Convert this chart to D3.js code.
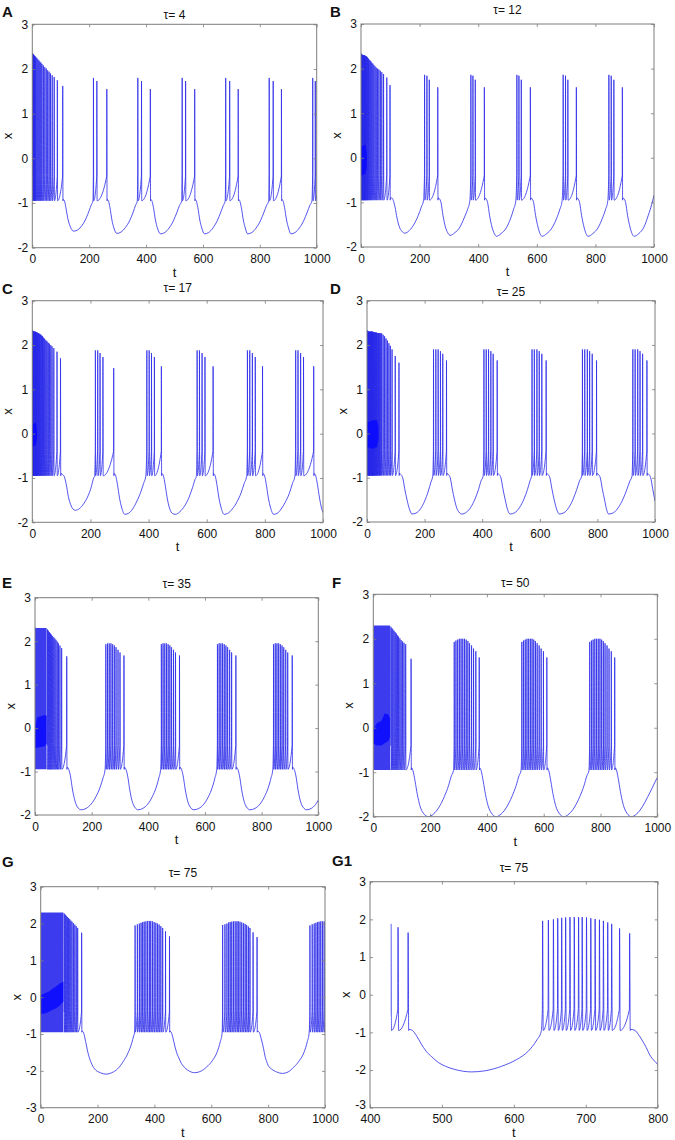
<!DOCTYPE html>
<html><head><meta charset="utf-8">
<script src="https://cdn.jsdelivr.net/npm/d3@7/dist/d3.min.js"></script>
<style>
html,body{margin:0;padding:0;background:#fff;}
svg{display:block;font-family:"Liberation Sans",Arial,Helvetica,sans-serif;}
</style></head>
<body><svg id="chart" width="675" height="1140"></svg>
<script>
// ---------------- DATA ----------------
const panelIds = ["A","B","C","D","E","F","G","G1"];
const tauValues = ["4","12","17","25","35","50","75","75"];
const xTicks1000 = [0,200,400,600,800,1000];
const xTicksZoom = [400,500,600,700,800];
const yTicks23 = [-2,-1,0,1,2,3];
const yTicks33 = [-3,-2,-1,0,1,2,3];
const FLOOR = -0.95;   // level the trace falls back to after each spike
const PRE = -0.4;      // level reached just before a spike fires
const g1TraceStart = 428.85; // G1 trace starts on the upstroke of the spike at t≈429

// spikes: [t, peak];  wave: slow-wave points [t, x] between bursts
const spikesA = [[0.5,2.35],[2.5,2.34],[4.5,2.32],[6.5,2.31],[8.5,2.29],[10.5,2.28],[13,2.26],[16.5,2.24],[20,2.21],[23.5,2.19],[27,2.16],[30.5,2.14],[34,2.11],[39,2.08],[44,2.04],[49,2.01],[54,1.97],[59,1.94],[64,1.9],[70,1.86],[77,1.82],[88,1.75],[107,1.62],
 [215,1.8],[227,1.73],[262,1.55],[371,1.8],[384,1.73],[415,1.55],[527,1.8],[539,1.73],[571,1.55],[680,1.8],[694,1.73],[724,1.55],[833,1.8],[847,1.73],[876,1.55],[986,1.8],[995,1.73]];
const waveA = [[108.5,-0.92],[113,-0.95],[118,-1.1],[125,-1.35],[133,-1.52],[145,-1.63],[160,-1.6],[175,-1.5],[190,-1.33],[200,-1.17],[208,-1.03],[213,-0.96],
 [263.5,-0.92],[268,-0.96],[273,-1.1],[280,-1.38],[287,-1.56],[297,-1.68],[312,-1.65],[327,-1.55],[342,-1.4],[355,-1.2],[363,-1.05],[369,-0.96],
 [416.5,-0.92],[421,-0.96],[426,-1.1],[433,-1.38],[440,-1.56],[451,-1.69],[466,-1.66],[481,-1.56],[496,-1.4],[509,-1.2],[518,-1.05],[525,-0.96],
 [572.5,-0.92],[577,-0.96],[582,-1.1],[589,-1.38],[596,-1.56],[605,-1.69],[620,-1.66],[635,-1.56],[650,-1.4],[663,-1.2],[672,-1.05],[678,-0.96],
 [725.5,-0.92],[730,-0.96],[735,-1.1],[742,-1.38],[749,-1.56],[757,-1.69],[772,-1.66],[787,-1.56],[802,-1.4],[815,-1.2],[824,-1.05],[831,-0.96],
 [877.5,-0.92],[882,-0.96],[887,-1.1],[894,-1.38],[901,-1.56],[909,-1.69],[924,-1.66],[939,-1.56],[954,-1.4],[967,-1.2],[976,-1.05],[983,-0.96],
 [1000,-0.82]];
const transA = [];
const coreA = [];

const spikesB = [[0.5,2.34],[2,2.32],[3.5,2.31],[5,2.31],[6.5,2.3],[8,2.3],[9.5,2.3],[11,2.3],[12.5,2.29],[14,2.29],[15.5,2.28],[17,2.28],[19,2.27],[21,2.26],[23,2.24],[25.5,2.22],[28,2.2],[31,2.18],[34,2.16],[37,2.13],[40.5,2.11],[44,2.08],[48,2.05],[52,2.02],[56.5,2.0],[61,1.98],[66,1.95],[71,1.92],[77,1.88],[88,1.8],[99,1.63],
 [217,1.86],[225,1.84],[233,1.75],[262,1.58],[375,1.86],[382,1.84],[390,1.75],[421,1.58],[532,1.86],[539,1.84],[547,1.75],[578,1.58],[690,1.86],[698,1.84],[706,1.75],[735,1.58],[846,1.86],[854,1.84],[863,1.75],[892,1.58]];
const waveB = [[100.5,-0.9],[105,-0.9],[110,-0.95],[116,-1.1],[123,-1.35],[131,-1.55],[140,-1.65],[150,-1.69],[165,-1.63],[180,-1.5],[195,-1.3],[206,-1.1],[213,-0.97],
 [263.5,-0.9],[268,-0.92],[273,-1.0],[280,-1.3],[288,-1.55],[296,-1.68],[304,-1.74],[320,-1.68],[338,-1.55],[352,-1.35],[364,-1.15],[371,-0.98],
 [422.5,-0.9],[427,-0.92],[432,-1.0],[439,-1.3],[447,-1.55],[455,-1.7],[462,-1.76],[478,-1.7],[496,-1.57],[510,-1.37],[521,-1.15],[528,-0.98],
 [579.5,-0.9],[584,-0.92],[589,-1.0],[596,-1.3],[604,-1.55],[611,-1.7],[618,-1.76],[634,-1.7],[652,-1.57],[667,-1.37],[679,-1.15],[686,-0.98],
 [736.5,-0.9],[741,-0.92],[746,-1.0],[753,-1.3],[761,-1.55],[768,-1.7],[775,-1.76],[791,-1.7],[809,-1.57],[823,-1.37],[835,-1.15],[842,-0.98],
 [893.5,-0.9],[898,-0.92],[903,-1.0],[910,-1.3],[918,-1.55],[925,-1.7],[932,-1.76],[948,-1.7],[966,-1.55],[980,-1.3],[992,-1.05],[1000,-0.84]];
const transB = [];
const coreB = [[0,-0.4,0.25],[15,-0.35,0.3],[20,-0.2,0.1]];

const spikesC = [[0.5,2.33],[2,2.32],[3.5,2.31],[5,2.31],[6.5,2.3],[8,2.3],[9.5,2.3],[11,2.3],[12.5,2.29],[14,2.29],[15.5,2.28],[17,2.28],[19,2.27],[21,2.26],[23,2.26],[25,2.25],[27.5,2.24],[30,2.23],[32.5,2.21],[35,2.2],[38,2.17],[41,2.15],[44,2.12],[47.5,2.1],[51,2.08],[55,2.05],[59,2.03],[63.5,2.0],[68,1.97],[74,1.93],[85,1.85],[97,1.7],
 [217,1.88],[225,1.88],[233,1.82],[243,1.73],[280,1.48],[394,1.88],[402,1.88],[410,1.82],[420,1.73],[444,1.52],[567,1.88],[575,1.88],[584,1.82],[594,1.73],[622,1.52],[740,1.88],[748,1.88],[757,1.82],[767,1.73],[792,1.52],[906,1.88],[914,1.88],[923,1.82],[933,1.73],[968,1.52]];
const waveC = [[98.5,-0.9],[104,-0.92],[110,-0.97],[117,-1.15],[124,-1.42],[132,-1.6],[140,-1.7],[148,-1.73],[162,-1.69],[178,-1.57],[192,-1.4],[203,-1.2],[211,-1.0],[214,-0.96],
 [281.5,-0.9],[287,-0.95],[293,-1.15],[300,-1.45],[308,-1.68],[318,-1.82],[330,-1.8],[345,-1.7],[360,-1.52],[373,-1.32],[383,-1.12],[390,-0.97],
 [445.5,-0.9],[451,-0.95],[457,-1.15],[464,-1.45],[472,-1.68],[482,-1.8],[492,-1.82],[508,-1.76],[524,-1.63],[539,-1.44],[551,-1.22],[560,-1.03],[564,-0.97],
 [623.5,-0.9],[629,-0.95],[635,-1.15],[642,-1.45],[650,-1.68],[660,-1.82],[672,-1.8],[688,-1.7],[704,-1.54],[718,-1.34],[729,-1.12],[737,-0.97],
 [793.5,-0.9],[799,-0.95],[805,-1.15],[812,-1.45],[820,-1.68],[830,-1.82],[842,-1.8],[856,-1.7],[870,-1.55],[884,-1.35],[895,-1.12],[903,-0.97],
 [969.5,-0.9],[975,-0.95],[981,-1.15],[988,-1.45],[995,-1.68],[1000,-1.78]];
const transC = [];
const coreC = [[0,-0.3,0.2],[12,-0.25,0.25],[16,-0.1,0.1]];

const spikesD = [[0.5,2.33],[2,2.32],[3.5,2.31],[5,2.3],[6.5,2.3],[8,2.3],[9.5,2.3],[11,2.3],[12.5,2.3],[14,2.3],[15.5,2.3],[17,2.3],[18.5,2.3],[20,2.3],[21.5,2.29],[23,2.29],[25,2.29],[27,2.28],[29,2.28],[31,2.28],[33,2.28],[35,2.27],[37.5,2.27],[40,2.27],[42.5,2.27],[45,2.27],[48,2.26],[51,2.26],[56,2.23],[61,2.2],[66,2.15],[71,2.1],[76,2.04],[81,1.98],[87,1.9],[98,1.75],[111,1.6],
 [231,1.9],[239,1.9],[247,1.9],[255,1.86],[263,1.8],[276,1.65],[406,1.9],[414,1.9],[422,1.9],[430,1.86],[438,1.8],[452,1.65],[573,1.9],[581,1.9],[590,1.9],[598,1.86],[607,1.8],[622,1.65],[748,1.9],[756,1.9],[765,1.9],[773,1.86],[782,1.8],[797,1.65],[923,1.9],[931,1.9],[940,1.9],[948,1.86],[957,1.8],[972,1.65]];
const waveD = [[112.5,-0.9],[118,-0.93],[124,-1.0],[131,-1.25],[139,-1.5],[147,-1.7],[156,-1.82],[170,-1.8],[186,-1.7],[200,-1.53],[213,-1.3],[222,-1.1],[228,-0.97],
 [277.5,-0.9],[283,-0.93],[289,-1.0],[296,-1.25],[304,-1.5],[314,-1.72],[329,-1.82],[345,-1.78],[361,-1.66],[375,-1.48],[387,-1.27],[396,-1.07],[403,-0.97],
 [453.5,-0.9],[459,-0.93],[465,-1.0],[472,-1.25],[480,-1.5],[488,-1.72],[497,-1.82],[513,-1.79],[530,-1.67],[545,-1.48],[557,-1.27],[566,-1.07],[571,-0.97],
 [623.5,-0.9],[629,-0.93],[635,-1.0],[642,-1.25],[650,-1.5],[659,-1.72],[668,-1.82],[684,-1.79],[701,-1.67],[716,-1.48],[728,-1.27],[738,-1.07],[745,-0.97],
 [798.5,-0.9],[804,-0.93],[810,-1.0],[817,-1.25],[825,-1.5],[832,-1.72],[839,-1.82],[856,-1.79],[873,-1.67],[889,-1.48],[902,-1.27],[913,-1.07],[920,-0.97],
 [973.5,-0.9],[979,-0.93],[985,-1.0],[992,-1.25],[1000,-1.53]];
const transD = [];
const coreD = [[0,-0.3,0.25],[20,-0.35,0.3],[35,-0.3,0.3],[40,-0.1,0.15]];

const spikesE = [[44,2.27],[47.5,2.24],[51,2.21],[54.5,2.18],[58,2.15],[62,2.12],[66,2.09],[70,2.06],[74,2.03],[78.5,1.99],[83,1.95],[88,1.9],[94,1.84],[112,1.65],
 [250,1.93],[256,1.95],[262,1.95],[268,1.95],[274,1.93],[280,1.9],[286,1.86],[293,1.8],[300,1.74],[314,1.67],
 [446,1.93],[452,1.95],[458,1.95],[464,1.95],[470,1.93],[476,1.9],[482,1.86],[489,1.8],[496,1.74],[510,1.67],
 [644,1.93],[650,1.95],[656,1.95],[662,1.95],[668,1.93],[674,1.9],[680,1.86],[687,1.8],[694,1.74],[709,1.67],
 [842,1.93],[848,1.95],[854,1.95],[860,1.95],[866,1.93],[872,1.9],[878,1.86],[885,1.8],[892,1.74],[908,1.67]];
const waveE = [[113.5,-0.9],[119,-0.95],[125,-1.1],[132,-1.4],[140,-1.65],[150,-1.82],[163,-1.88],[180,-1.85],[198,-1.75],[215,-1.58],[230,-1.36],[240,-1.15],[247,-0.97],
 [315.5,-0.9],[321,-0.95],[327,-1.1],[334,-1.4],[342,-1.66],[352,-1.82],[364,-1.88],[380,-1.85],[398,-1.75],[414,-1.58],[428,-1.36],[437,-1.15],[443,-0.97],
 [511.5,-0.9],[517,-0.95],[523,-1.1],[530,-1.4],[538,-1.66],[548,-1.82],[561,-1.88],[578,-1.85],[596,-1.75],[612,-1.58],[626,-1.36],[635,-1.15],[641,-0.97],
 [710.5,-0.9],[716,-0.95],[722,-1.1],[729,-1.4],[737,-1.66],[747,-1.82],[759,-1.88],[776,-1.85],[794,-1.75],[810,-1.58],[824,-1.36],[833,-1.15],[839,-0.97],
 [909.5,-0.9],[915,-0.95],[921,-1.1],[928,-1.4],[936,-1.66],[946,-1.82],[959,-1.88],[975,-1.85],[990,-1.76],[1000,-1.66]];
const transE = [[0,2.36],[1.5,2.3],[41,2.3]];
const coreE = [[0,-0.45,0.0],[8,-0.45,0.25],[35,-0.42,0.3],[41,-0.35,0.28]];

const spikesF = [[62,2.27],[65.5,2.24],[69,2.21],[73,2.18],[77,2.15],[81,2.12],[85,2.08],[89,2.05],[93.5,2.01],[98,1.97],[103,1.94],[108,1.91],[114,1.88],[133,1.55],
 [285,1.93],[291,1.96],[297,1.98],[303,2.0],[309,2.0],[315,2.0],[321,2.0],[327,1.98],[333,1.95],[339,1.9],[346,1.85],[353,1.78],[361,1.72],[373,1.58],
 [523,1.93],[529,1.96],[535,1.98],[541,2.0],[547,2.0],[553,2.0],[559,2.0],[565,1.98],[571,1.95],[577,1.9],[584,1.85],[591,1.78],[599,1.72],[611,1.58],
 [762,1.93],[768,1.96],[774,1.98],[780,2.0],[786,2.0],[792,2.0],[798,2.0],[804,1.98],[810,1.95],[816,1.9],[823,1.85],[830,1.78],[838,1.72],[850,1.58]];
const waveF = [[134.5,-0.9],[140,-0.97],[147,-1.2],[155,-1.5],[164,-1.75],[176,-1.92],[194,-2.0],[212,-1.94],[232,-1.78],[250,-1.55],[265,-1.3],[275,-1.08],[282,-0.97],
 [374.5,-0.9],[380,-0.97],[387,-1.2],[395,-1.5],[404,-1.75],[416,-1.92],[432,-2.0],[450,-1.94],[470,-1.78],[488,-1.55],[503,-1.3],[513,-1.08],[520,-0.97],
 [612.5,-0.9],[618,-0.97],[625,-1.2],[633,-1.5],[642,-1.75],[654,-1.92],[671,-2.0],[689,-1.94],[709,-1.78],[727,-1.55],[742,-1.3],[752,-1.08],[759,-0.97],
 [851.5,-0.9],[857,-0.97],[864,-1.2],[872,-1.5],[881,-1.75],[893,-1.92],[909,-2.0],[927,-1.94],[947,-1.78],[965,-1.57],[980,-1.38],[992,-1.22],[1000,-1.12]];
const transF = [[0,2.36],[1.5,2.3],[59,2.3]];
const coreF = [[0,-0.35,-0.05],[12,-0.4,0.1],[28,-0.4,0.15],[40,-0.35,0.32],[53,-0.3,0.3],[59,-0.2,0.2]];

const spikesG = [[83,2.27],[86.5,2.24],[90,2.21],[94,2.18],[98,2.15],[102,2.12],[106,2.08],[110,2.05],[115,2.01],[120,1.97],[125,1.93],[130,1.88],[144,1.75],
 [332,1.95],[340,1.98],[347,2.0],[353,2.02],[358.5,2.04],[364,2.05],[370,2.06],[376,2.07],[382,2.07],[387,2.07],[393,2.06],[399,2.04],[405,2.02],[411,2.0],[416.5,1.97],[422.5,1.93],[429,1.88],[439,1.79],[453,1.65],
 [640,1.96],[648,1.98],[655,2.0],[661,2.03],[666.5,2.04],[672,2.05],[678,2.06],[684,2.06],[690,2.06],[695,2.06],[701,2.05],[707,2.03],[713,2.01],[719,1.99],[724.5,1.96],[730.5,1.92],[736,1.88],[747,1.76],[761,1.63],
 [947,1.95],[955,1.98],[962,2.0],[968,2.02],[973.5,2.04],[979,2.05],[985,2.06],[991,2.06],[997,2.06]];
const waveG = [[145.5,-0.92],[151,-0.97],[158,-1.2],[166,-1.5],[176,-1.75],[190,-1.95],[210,-2.05],[230,-2.09],[250,-2.05],[270,-1.95],[290,-1.75],[308,-1.5],[320,-1.25],[327,-1.05],[330,-0.97],
 [454.5,-0.92],[459,-0.95],[465,-1.1],[471,-1.3],[478,-1.5],[486,-1.65],[495,-1.8],[505,-1.9],[517,-1.98],[529,-2.03],[541,-2.05],[560,-2.02],[583,-1.9],[604,-1.72],[620,-1.5],[632,-1.2],[638,-0.98],
 [762.5,-0.92],[768.5,-0.95],[773,-1.05],[778,-1.2],[784,-1.4],[789,-1.6],[795,-1.75],[800,-1.85],[812,-1.95],[830,-2.03],[850,-2.07],[870,-2.03],[890,-1.9],[910,-1.72],[926,-1.5],[938,-1.2],[944,-0.98],
 [1000,-0.7]];
const transG = [[0,2.3],[80,2.3]];
const coreG = [[0,-0.45,0.05],[12,-0.45,0.1],[28,-0.4,0.15],[40,-0.35,0.22],[55,-0.3,0.3],[68,-0.22,0.38],[80,-0.12,0.42]];

// ---------------- LAYOUT (pixel boxes of each axes) ----------------
const layout = {
  A:{l:32.3,r:316.7,t:24.3,b:247.7,titleY:19,letterX:2,letterY:17},
  B:{l:361,r:654,t:24,b:247,titleY:14,letterX:330,letterY:17},
  C:{l:32.3,r:323,t:300.7,b:522.3,titleY:291.5,letterX:2,letterY:294},
  D:{l:367,r:655,t:300.7,b:522,titleY:296,letterX:330,letterY:294},
  E:{l:35,r:318.3,t:597.7,b:815,titleY:588,letterX:2,letterY:587.5},
  F:{l:373.3,r:657.3,t:594.3,b:816.7,titleY:587,letterX:332,letterY:587.5},
  G:{l:40.7,r:325,t:886.7,b:1107.7,titleY:877,letterX:2,letterY:867},
  G1:{l:370,r:657.7,t:881.7,b:1107.7,titleY:872,letterX:332,letterY:866}
};

const panels = [
  {id:"A", spikes:spikesA, wave:waveA, trans:transA, core:coreA, xDomain:[0,1000], yDomain:[-2,3], xTicks:xTicks1000, yTicks:yTicks23},
  {id:"B", spikes:spikesB, wave:waveB, trans:transB, core:coreB, xDomain:[0,1000], yDomain:[-2,3], xTicks:xTicks1000, yTicks:yTicks23},
  {id:"C", spikes:spikesC, wave:waveC, trans:transC, core:coreC, xDomain:[0,1000], yDomain:[-2,3], xTicks:xTicks1000, yTicks:yTicks23},
  {id:"D", spikes:spikesD, wave:waveD, trans:transD, core:coreD, xDomain:[0,1000], yDomain:[-2,3], xTicks:xTicks1000, yTicks:yTicks23},
  {id:"E", spikes:spikesE, wave:waveE, trans:transE, core:coreE, xDomain:[0,1000], yDomain:[-2,3], xTicks:xTicks1000, yTicks:yTicks23},
  {id:"F", spikes:spikesF, wave:waveF, trans:transF, core:coreF, xDomain:[0,1000], yDomain:[-2,3], xTicks:xTicks1000, yTicks:yTicks23},
  {id:"G", spikes:spikesG, wave:waveG, trans:transG, core:coreG, xDomain:[0,1000], yDomain:[-3,3], xTicks:xTicks1000, yTicks:yTicks33},
  {id:"G1", spikes:spikesG, wave:waveG, trans:[], core:[], xDomain:[400,800], yDomain:[-3,3], xTicks:xTicksZoom, yTicks:yTicks33, start:g1TraceStart}
];

// ---------------- DRAWING ----------------
const svg = d3.select("#chart");
svg.append("rect").attr("width",675).attr("height",1140).attr("fill","#fff");
const defs = svg.append("defs");

function buildTrace(spikes, wave){
  const pts = [];
  spikes.forEach(([t,p]) => { pts.push([t-0.4, PRE], [t, p], [t+0.8, FLOOR]); });
  wave.forEach(d => pts.push(d));
  pts.sort((a,b) => a[0]-b[0]);
  return pts;
}

const LINE = "#2a2aea", AREA = "#3c3cee", CORE = "#0808ff", BOX = "#7c7c7c";

function overlaps(a, b){
  return a.x < b.x + b.width && b.x < a.x + a.width && a.y < b.y + b.height && b.y < a.y + a.height;
}

panels.forEach((p,i) => {
  const L = layout[p.id];
  const x = d3.scaleLinear().domain(p.xDomain).range([L.l, L.r]);
  const y = d3.scaleLinear().domain(p.yDomain).range([L.b, L.t]);
  const g = svg.append("g").attr("class","panel-"+p.id);

  const cid = "clip" + p.id;
  const cx0 = p.start !== undefined ? Math.max(L.l, x(p.start)) : L.l;
  defs.append("clipPath").attr("id",cid).append("rect")
    .attr("x",cx0).attr("y",L.t).attr("width",L.r-cx0).attr("height",L.b-L.t);
  const plot = g.append("g").attr("clip-path",`url(#${cid})`);

  if (p.trans.length){
    plot.append("path").datum(p.trans)
      .attr("d", d3.area().x(d=>x(d[0])).y0(y(FLOOR)).y1(d=>y(d[1])))
      .attr("fill", AREA);
  }
  const trace = buildTrace(p.spikes, p.wave);
  plot.append("path").datum(trace)
    .attr("d", d3.line().x(d=>x(d[0])).y(d=>y(d[1])).curve(d3.curveMonotoneX))
    .attr("fill","none").attr("stroke",LINE).attr("stroke-width",0.8)
    .attr("stroke-linejoin","round");
  if (p.core.length){
    plot.append("path").datum(p.core)
      .attr("d", d3.area().x(d=>x(d[0])).y0(d=>y(d[1])).y1(d=>y(d[2])))
      .attr("fill", CORE).attr("opacity",0.85);
  }

  // axes (MATLAB style: inward ticks on all four sides)
  const fmt = d => String(d);
  const styleAxis = sel => {
    sel.select(".domain").remove();
    sel.selectAll(".tick line").attr("stroke",BOX).attr("stroke-width",0.8);
    sel.selectAll("text").attr("fill","#111").attr("font-size",12)
      .attr("font-family","'Liberation Sans',Arial,sans-serif");
    sel.attr("font-family",null).attr("font-size",null);
  };
  const axB = g.append("g").attr("transform",`translate(0,${L.b})`)
    .call(d3.axisBottom(x).tickValues(p.xTicks).tickSizeInner(-3).tickSizeOuter(0).tickPadding(7).tickFormat(fmt))
    .call(styleAxis);
  g.append("g").attr("transform",`translate(0,${L.t})`)
    .call(d3.axisTop(x).tickValues(p.xTicks).tickSizeInner(-3).tickSizeOuter(0).tickFormat(""))
    .call(styleAxis);
  const axL = g.append("g").attr("transform",`translate(${L.l},0)`)
    .call(d3.axisLeft(y).tickValues(p.yTicks).tickSizeInner(-3).tickSizeOuter(0).tickPadding(4).tickFormat(fmt))
    .call(styleAxis);
  g.append("g").attr("transform",`translate(${L.r},0)`)
    .call(d3.axisRight(y).tickValues(p.yTicks).tickSizeInner(-3).tickSizeOuter(0).tickFormat(""))
    .call(styleAxis);

  // nudge the lowest y label up if it collides with the first x label
  const lowY = axL.selectAll(".tick text").filter(d => d === p.yDomain[0]);
  const firstX = axB.selectAll(".tick text").filter(d => d === p.xDomain[0]);
  if (!lowY.empty() && !firstX.empty()){
    const a = lowY.node().getBoundingClientRect(), b = firstX.node().getBoundingClientRect();
    if (overlaps(a,b)) lowY.attr("dy", "0.05em");
  }

  g.append("rect").attr("x",L.l).attr("y",L.t).attr("width",L.r-L.l).attr("height",L.b-L.t)
    .attr("fill","none").attr("stroke",BOX).attr("stroke-width",1);

  // labels
  g.append("text").attr("x",(L.l+L.r)/2).attr("y",L.b+29).attr("text-anchor","middle")
    .attr("font-size",13).attr("fill","#111").text("t");
  g.append("text").attr("transform",`translate(${L.l-24},${(L.t+L.b)/2}) rotate(-90)`)
    .attr("text-anchor","middle").attr("dy","0.32em").attr("font-size",13).attr("fill","#111").text("x");
  g.append("text").attr("x",(L.l+L.r)/2).attr("y",L.titleY).attr("text-anchor","middle")
    .attr("font-size",12).attr("fill","#111").text("τ= " + tauValues[i]);
  g.append("text").attr("x",L.letterX).attr("y",L.letterY).attr("font-size",15)
    .attr("font-weight","bold").attr("fill","#111").text(panelIds[i]);
});
</script>
</body></html>
